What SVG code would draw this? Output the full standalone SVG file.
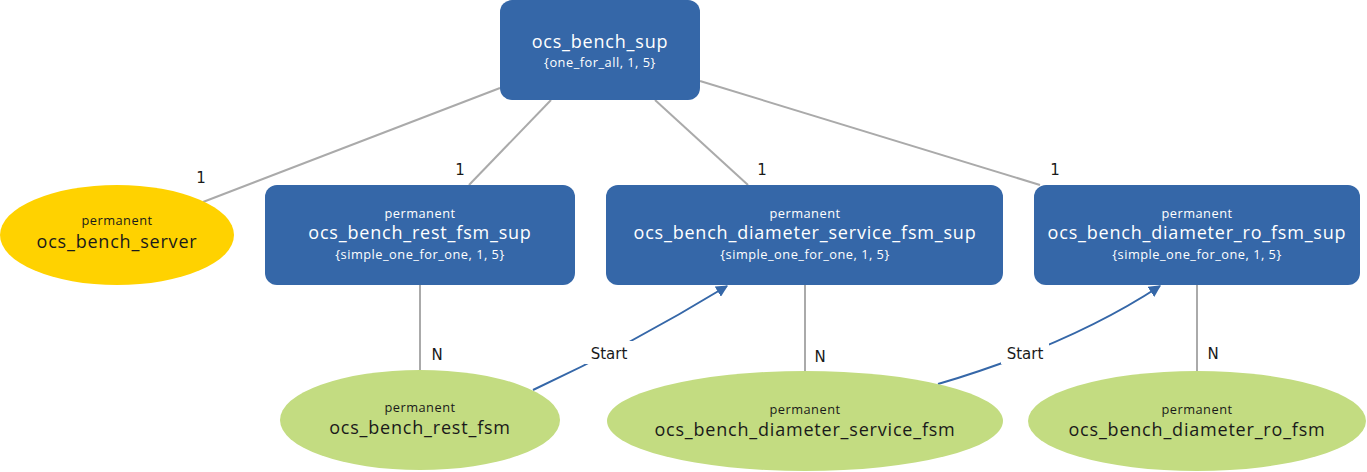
<svg xmlns="http://www.w3.org/2000/svg" width="1367" height="472" viewBox="0 0 1367 472">
<style>
.box{fill:#3567a8}
.wt{fill:#fff;font-family:"Open Sans","Liberation Sans",sans-serif;text-anchor:middle}
.bt{fill:#1a1a1a;font-family:"Open Sans","Liberation Sans",sans-serif;text-anchor:middle}
.big{font-size:18px;letter-spacing:0.8px}
.sm{font-size:12.8px;letter-spacing:0.5px}
.ln{stroke:#aaaaaa;stroke-width:2;fill:none}
.ar{stroke:#3567a8;stroke-width:2;fill:none}
.lb{font-family:"DejaVu Sans",sans-serif;font-size:15px;fill:#1a1a1a;text-anchor:middle}
</style>
<defs>
<marker id="ah" viewBox="0 0 10 10" refX="9" refY="5" markerWidth="6" markerHeight="6" markerUnits="strokeWidth" orient="auto">
<path d="M0,0 L10,5 L0,10 z" fill="#3567a8"/>
</marker>
</defs>
<g id="connectors">
<line class="ln" x1="500" y1="88" x2="203" y2="202"/>
<line class="ln" x1="551" y1="100" x2="469" y2="185"/>
<line class="ln" x1="655" y1="100" x2="748" y2="185"/>
<line class="ln" x1="700" y1="81" x2="1040" y2="185"/>
<line class="ln" x1="420" y1="285" x2="420" y2="370"/>
<line class="ln" x1="805" y1="285" x2="805" y2="372"/>
<line class="ln" x1="1197" y1="285" x2="1197" y2="372"/>
<text class="lb" x="201" y="183">1</text>
<text class="lb" x="460" y="175">1</text>
<text class="lb" x="762" y="175">1</text>
<text class="lb" x="1055" y="175">1</text>
<text class="lb" x="437" y="360">N</text>
<text class="lb" x="820" y="362">N</text>
<text class="lb" x="1213" y="359">N</text>
<path class="ar" d="M533,390 Q630,345 727,286" marker-end="url(#ah)"/>
<path class="ar" d="M938,384 Q1070,345 1160,286" marker-end="url(#ah)"/>
<rect x="585" y="341" width="48" height="23" fill="#fff"/>
<rect x="1001" y="341" width="48" height="23" fill="#fff"/>
<text class="lb" x="609" y="359">Start</text>
<text class="lb" x="1025" y="359">Start</text>
</g>
<g id="ocs_bench_sup">
<rect class="box" x="500" y="0" width="200" height="100" rx="12"/>
<text class="wt big" x="600" y="48">ocs_bench_sup</text>
<text class="wt sm" x="600" y="67">{one_for_all, 1, 5}</text>
</g>
<g id="ocs_bench_server">
<ellipse cx="117" cy="235" rx="117" ry="50" fill="#ffd200"/>
<text class="bt sm" x="117" y="225">permanent</text>
<text class="bt big" x="117" y="248">ocs_bench_server</text>
</g>
<g id="ocs_bench_rest_fsm_sup">
<rect class="box" x="265" y="185" width="310" height="100" rx="12"/>
<text class="wt sm" x="420" y="218">permanent</text>
<text class="wt big" x="420" y="239">ocs_bench_rest_fsm_sup</text>
<text class="wt sm" x="420" y="259">{simple_one_for_one, 1, 5}</text>
</g>
<g id="ocs_bench_diameter_service_fsm_sup">
<rect class="box" x="606" y="185" width="397" height="100" rx="12"/>
<text class="wt sm" x="805" y="218">permanent</text>
<text class="wt big" x="805" y="239">ocs_bench_diameter_service_fsm_sup</text>
<text class="wt sm" x="805" y="259">{simple_one_for_one, 1, 5}</text>
</g>
<g id="ocs_bench_diameter_ro_fsm_sup">
<rect class="box" x="1034" y="185" width="326" height="100" rx="12"/>
<text class="wt sm" x="1197" y="218">permanent</text>
<text class="wt big" x="1197" y="239">ocs_bench_diameter_ro_fsm_sup</text>
<text class="wt sm" x="1197" y="259">{simple_one_for_one, 1, 5}</text>
</g>
<g id="ocs_bench_rest_fsm">
<ellipse cx="420" cy="420" rx="140" ry="50" fill="#c3dc81"/>
<text class="bt sm" x="420" y="412">permanent</text>
<text class="bt big" x="420" y="434">ocs_bench_rest_fsm</text>
</g>
<g id="ocs_bench_diameter_service_fsm">
<ellipse cx="805" cy="421" rx="198" ry="50" fill="#c3dc81"/>
<text class="bt sm" x="805" y="414">permanent</text>
<text class="bt big" x="805" y="436">ocs_bench_diameter_service_fsm</text>
</g>
<g id="ocs_bench_diameter_ro_fsm">
<ellipse cx="1197" cy="421" rx="169" ry="50" fill="#c3dc81"/>
<text class="bt sm" x="1197" y="414">permanent</text>
<text class="bt big" x="1197" y="436">ocs_bench_diameter_ro_fsm</text>
</g>
</svg>
